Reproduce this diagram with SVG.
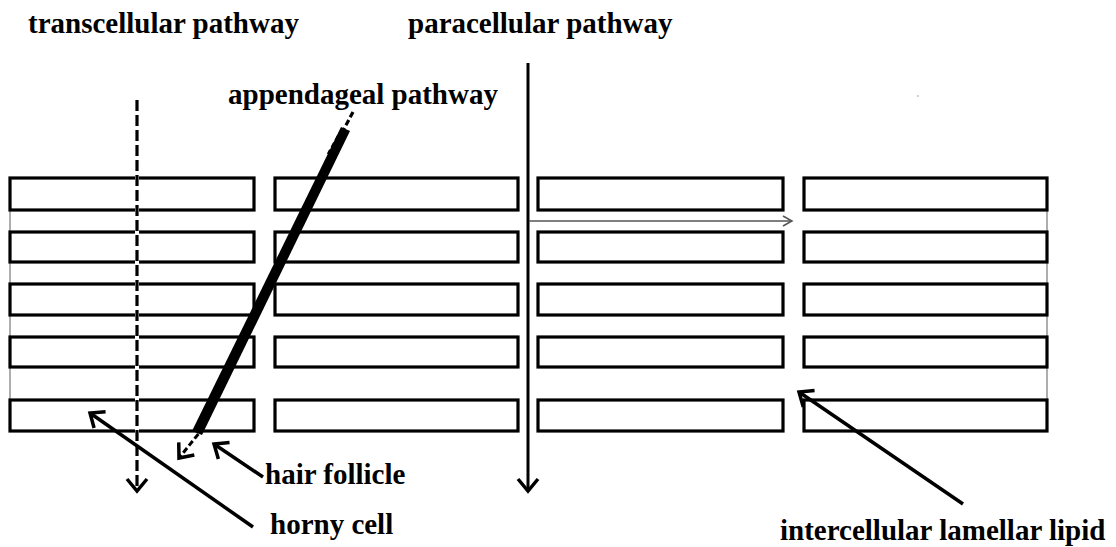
<svg xmlns="http://www.w3.org/2000/svg" width="1116" height="547" viewBox="0 0 1116 547">
  <style>
    .cell { fill: #fff; stroke: #000; stroke-width: 3.2; }
    .edge { stroke: #777; stroke-width: 1.2; fill: none; }
    .lbl { font-family: "Liberation Serif", "Times New Roman", serif; font-weight: bold; font-size: 29px; fill: #000; }
    .ptr { stroke: #000; stroke-width: 3.5; fill: none; }
  </style>
  <defs>
    <marker id="chev" markerUnits="userSpaceOnUse" markerWidth="24" markerHeight="24" refX="12" refY="12" orient="auto" overflow="visible">
      <path d="M0,2 L12,12 L0,22" fill="none" stroke="#000" stroke-width="3.5"/>
    </marker>
    <marker id="chevThin" markerUnits="userSpaceOnUse" markerWidth="14" markerHeight="14" refX="10" refY="7" orient="auto" overflow="visible">
      <path d="M1,2 L10,7 L1,12" fill="none" stroke="#555" stroke-width="1.5"/>
    </marker>
  </defs>

  <rect width="1116" height="547" fill="#fff"/>

  <!-- thin side lines joining the cell stacks -->
  <g id="stack-edges">
    <line class="edge" x1="10" y1="210" x2="10" y2="400"/>
    <line class="edge" x1="1047" y1="210" x2="1047" y2="400"/>
  </g>

  <!-- stratum corneum: 4 columns x 5 rows of horny cells -->
  <g id="cells">
    <g id="row1">
      <rect class="cell" x="10" y="178" width="244" height="32"/>
      <rect class="cell" x="275" y="178" width="243" height="32"/>
      <rect class="cell" x="538" y="178" width="245" height="32"/>
      <rect class="cell" x="804" y="178" width="243" height="32"/>
    </g>
    <g id="row2">
      <rect class="cell" x="10" y="232" width="244" height="30"/>
      <rect class="cell" x="275" y="232" width="243" height="30"/>
      <rect class="cell" x="538" y="232" width="245" height="30"/>
      <rect class="cell" x="804" y="232" width="243" height="30"/>
    </g>
    <g id="row3">
      <rect class="cell" x="10" y="284" width="244" height="31"/>
      <rect class="cell" x="275" y="284" width="243" height="31"/>
      <rect class="cell" x="538" y="284" width="245" height="31"/>
      <rect class="cell" x="804" y="284" width="243" height="31"/>
    </g>
    <g id="row4">
      <rect class="cell" x="10" y="337" width="244" height="30"/>
      <rect class="cell" x="275" y="337" width="243" height="30"/>
      <rect class="cell" x="538" y="337" width="245" height="30"/>
      <rect class="cell" x="804" y="337" width="243" height="30"/>
    </g>
    <g id="row5">
      <rect class="cell" x="10" y="400" width="244" height="31"/>
      <rect class="cell" x="275" y="400" width="243" height="31"/>
      <rect class="cell" x="538" y="400" width="245" height="31"/>
      <rect class="cell" x="804" y="400" width="243" height="31"/>
    </g>
  </g>

  <!-- pathways and pointers -->
  <g id="connectors">
    <!-- transcellular: dashed vertical arrow through the cells -->
    <line x1="137" y1="100" x2="137" y2="480" stroke="#fff" stroke-width="4"/>
    <line x1="137" y1="100" x2="137" y2="491" stroke="#000" stroke-width="3.2" stroke-dasharray="11 4" marker-end="url(#chev)"/>

    <!-- paracellular: solid vertical arrow between cell columns -->
    <line x1="528" y1="63" x2="528" y2="491" stroke="#000" stroke-width="3" marker-end="url(#chev)"/>
    <!-- lateral branch along the lipid layer -->
    <line x1="529" y1="221" x2="792" y2="221" stroke="#555" stroke-width="1.5" marker-end="url(#chevThin)"/>

    <!-- appendageal: follicle shaft with dashed ends -->
    <polygon points="341,127 350,131 202,435 192,431" fill="#000"/>
    <line x1="353" y1="112" x2="337" y2="142" stroke="#000" stroke-width="3.2" stroke-dasharray="6 3"/>
    <line x1="342" y1="129" x2="328" y2="154" stroke="#000" stroke-width="2.5" stroke-dasharray="5 3"/>
    <line x1="204" y1="427" x2="179" y2="458" stroke="#000" stroke-width="3" stroke-dasharray="6 3" marker-end="url(#chev)"/>

    <!-- label pointers -->
    <line class="ptr" x1="263" y1="477" x2="214" y2="444" marker-end="url(#chev)"/>
    <line class="ptr" x1="253" y1="527" x2="90" y2="413" marker-end="url(#chev)"/>
    <line class="ptr" x1="963" y1="504" x2="799" y2="392" marker-end="url(#chev)"/>
  </g>

  <g id="labels">
    <text class="lbl" x="28" y="33">transcellular pathway</text>
    <text class="lbl" x="408" y="33">paracellular pathway</text>
    <text class="lbl" x="228" y="104">appendageal pathway</text>
    <text class="lbl" x="265" y="484">hair follicle</text>
    <text class="lbl" x="270" y="534">horny cell</text>
    <text class="lbl" x="780" y="540">intercellular lamellar lipid</text>
  </g>

  <circle cx="918" cy="96" r="0.8" fill="#999"/>
</svg>
